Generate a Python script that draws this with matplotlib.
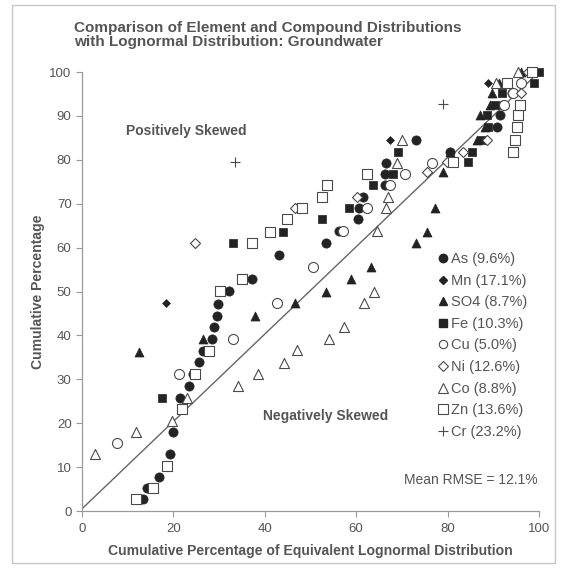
import matplotlib
matplotlib.use("Agg")
import matplotlib.pyplot as plt
from matplotlib.patches import Rectangle
from matplotlib.lines import Line2D

plt.rcParams['font.family'] = ['Liberation Sans', 'DejaVu Sans']

# ---- data ----
as_x = [13.3, 14.2, 16.8, 19.3, 19.9, 21.4, 23.5, 24.3, 25.5, 26.4, 28.4, 28.9, 29.5, 29.8, 32.2, 37.2,
        43.2, 53.4, 56.2, 60.4, 60.6, 61.5, 66.3, 66.3, 66.6, 73.1, 80.5, 90.8, 91.5, 92.1, 94.0]
as_y = [2.7, 5.2, 7.7, 13.0, 18.0, 25.7, 28.5, 31.2, 33.9, 36.4, 39.2, 41.9, 44.4, 47.2, 50.1, 52.8,
        58.3, 61.0, 63.8, 66.5, 69.0, 71.5, 74.3, 76.8, 79.3, 84.5, 81.8, 87.5, 90.2, 92.5, 95.2]

mn_x = [18.4, 67.4, 88.8]
mn_y = [47.4, 84.5, 97.5]

so4_x = [12.5, 26.5, 37.9, 46.6, 53.4, 58.9, 63.2, 73.0, 75.4, 77.3, 79.0, 80.5, 86.4, 88.2, 87.1,
         89.3, 89.7, 91.2, 96.0]
so4_y = [36.2, 39.2, 44.4, 47.4, 49.9, 52.8, 55.6, 61.0, 63.6, 69.0, 77.2, 81.8, 84.5, 87.5, 90.2,
         92.5, 95.2, 97.5, 100.0]

fe_x = [17.5, 33.0, 44.0, 52.5, 58.4, 63.7, 68.1, 69.1, 84.5, 85.3, 87.5, 88.8, 88.6, 90.4, 92.0, 99.0, 100.0]
fe_y = [25.7, 61.0, 63.6, 66.5, 69.0, 74.3, 76.8, 81.8, 79.5, 81.8, 84.5, 87.5, 90.2, 92.5, 95.2, 97.5, 100.0]

cu_x = [7.7, 21.2, 33.0, 42.7, 50.5, 57.2, 62.4, 67.5, 70.7, 76.6, 92.4, 94.3, 96.0]
cu_y = [15.5, 31.2, 39.2, 47.4, 55.6, 63.8, 69.0, 74.3, 76.8, 79.3, 92.5, 95.2, 97.5]

ni_x = [24.7, 46.6, 60.2, 75.5, 79.9, 83.4, 88.6, 93.0, 96.0, 97.5]
ni_y = [61.0, 69.0, 71.5, 77.2, 79.5, 81.8, 84.5, 97.5, 95.2, 100.0]

co_x = [2.8, 11.8, 19.6, 23.0, 34.1, 38.5, 44.2, 47.0, 54.0, 57.3, 61.7, 63.9, 64.6, 66.5, 67.0,
        68.9, 70.0, 90.5, 95.5]
co_y = [13.0, 18.0, 20.5, 25.7, 28.5, 31.2, 33.7, 36.6, 39.2, 41.9, 47.4, 49.9, 63.8, 69.0, 71.5,
        79.3, 84.5, 97.5, 100.0]

zn_x = [11.8, 15.5, 18.6, 21.9, 24.8, 27.8, 30.2, 35.0, 37.2, 41.1, 44.9, 48.1, 52.5, 53.6, 62.4,
        81.2, 94.3, 94.7, 95.2, 95.4, 95.8, 93.0, 98.5]
zn_y = [2.7, 5.2, 10.2, 23.2, 31.2, 36.4, 50.1, 52.8, 61.0, 63.6, 66.5, 69.0, 71.5, 74.3, 76.8,
        79.5, 81.8, 84.5, 87.5, 90.2, 92.5, 97.5, 100.0]

cr_x = [33.5, 79.0]
cr_y = [79.5, 92.7]

labels = ["As (9.6%)", "Mn (17.1%)", "SO4 (8.7%)", "Fe (10.3%)", "Cu (5.0%)",
          "Ni (12.6%)", "Co (8.8%)", "Zn (13.6%)", "Cr (23.2%)"]
x_ticks = [0, 20, 40, 60, 80, 100]
y_ticks = [0, 10, 20, 30, 40, 50, 60, 70, 80, 90, 100]

# ---- figure ----
W, H = 563, 569
fig = plt.figure(figsize=(W / 100, H / 100), dpi=100)
fig.patch.set_facecolor('white')
fig.patches.append(Rectangle((12 / W, 1 - 563 / H), (555 - 12) / W, (563 - 5) / H,
                             transform=fig.transFigure, fill=False, edgecolor='#c8c8c8', lw=1.0))

ax = fig.add_axes([82 / W, 1 - 511 / H, (539 - 82) / W, (511 - 72) / H])
ax.set_xlim(0, 100)
ax.set_ylim(0, 100)

dark = '#232323'
edge = '#4a4a4a'
txt = '#555555'

ax.plot([0, 100], [0.5, 100], color='#666666', lw=1.0, zorder=1)

series = [
    (as_x, as_y, dict(marker='o', s=44, c=dark, edgecolors=dark, linewidths=0.5)),
    (mn_x, mn_y, dict(marker='D', s=16, c=dark, edgecolors=dark, linewidths=0.5)),
    (so4_x, so4_y, dict(marker='^', s=42, c=dark, edgecolors=dark, linewidths=0.5)),
    (fe_x, fe_y, dict(marker='s', s=38, c=dark, edgecolors=dark, linewidths=0.5)),
    (cu_x, cu_y, dict(marker='o', s=52, facecolors='white', edgecolors=edge, linewidths=0.8)),
    (ni_x, ni_y, dict(marker='D', s=26, facecolors='white', edgecolors=edge, linewidths=0.8)),
    (co_x, co_y, dict(marker='^', s=52, facecolors='white', edgecolors=edge, linewidths=0.8)),
    (zn_x, zn_y, dict(marker='s', s=48, facecolors='white', edgecolors=edge, linewidths=0.8)),
    (cr_x, cr_y, dict(marker='+', s=45, c=edge, linewidths=0.8)),
]
for xs, ys, kw in series:
    ax.scatter(xs, ys, clip_on=False, zorder=3, **kw)

# legend
handles = [
    Line2D([], [], ls='', marker='o', ms=6, color=dark),
    Line2D([], [], ls='', marker='D', ms=4, color=dark),
    Line2D([], [], ls='', marker='^', ms=6, color=dark),
    Line2D([], [], ls='', marker='s', ms=6, color=dark),
    Line2D([], [], ls='', marker='o', ms=6, mfc='white', mec=edge, mew=0.8),
    Line2D([], [], ls='', marker='D', ms=5, mfc='white', mec=edge, mew=0.8),
    Line2D([], [], ls='', marker='^', ms=6.5, mfc='white', mec=edge, mew=0.8),
    Line2D([], [], ls='', marker='s', ms=6.5, mfc='white', mec=edge, mew=0.8),
    Line2D([], [], ls='', marker='+', ms=7, color=edge, mew=0.8),
]
leg = ax.legend(handles, labels, loc='upper left', bbox_to_anchor=(0.765, 0.603),
                frameon=False, fontsize=10.5, handlelength=0.7, handletextpad=0.25,
                labelspacing=0.52, borderaxespad=0)
for t in leg.get_texts():
    t.set_color(txt)

ax.text(99.8, 7.1, "Mean RMSE = 12.1%", ha='right', va='center', fontsize=10, color=txt)
ax.text(22.8, 86.6, "Positively Skewed", ha='center', va='center', fontsize=10,
        fontweight='bold', color=txt)
ax.text(53.4, 21.6, "Negatively Skewed", ha='center', va='center', fontsize=10,
        fontweight='bold', color=txt)

# axes styling
for s in ['top', 'right']:
    ax.spines[s].set_visible(False)
for s in ['left', 'bottom']:
    ax.spines[s].set_color('#9a9a9a')
    ax.spines[s].set_linewidth(0.9)
ax.set_xticks(x_ticks)
ax.set_yticks(y_ticks)
ax.tick_params(axis='both', colors='#9a9a9a', labelcolor=txt, labelsize=9.5, length=4, width=0.8)
ax.tick_params(axis='x', pad=5)

ax.set_xlabel("Cumulative Percentage of Equivalent Lognormal Distribution", fontsize=10.1,
              fontweight='bold', color=txt, labelpad=6)
ax.set_ylabel("Cumulative Percentage", fontsize=10.1, fontweight='bold', color=txt, labelpad=3)

fig.text(74 / W, 1 - 35 / H, "Comparison of Element and Compound Distributions\nwith Lognormal Distribution: Groundwater",
         ha='left', va='center', fontsize=11, fontweight='bold', color=txt, linespacing=1.05)

fig.savefig("out.png", dpi=100)
